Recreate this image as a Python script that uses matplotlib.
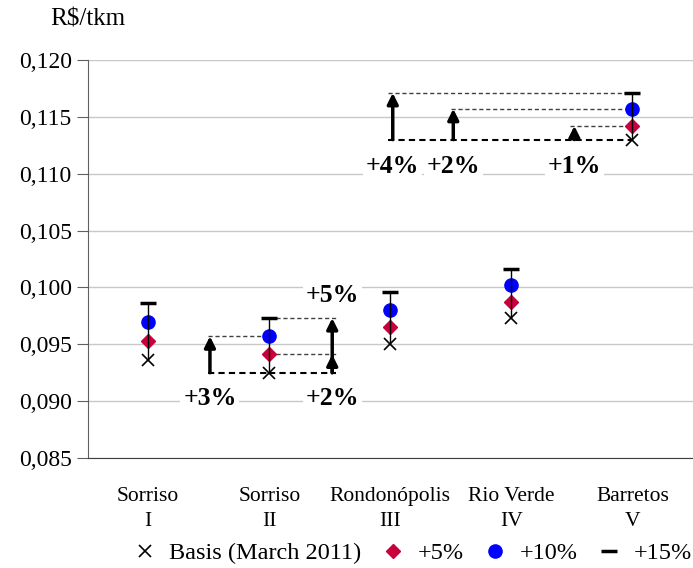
import numpy as np
import matplotlib
matplotlib.use("Agg")
import matplotlib.pyplot as plt
from matplotlib.ticker import FuncFormatter

# categories (route, region)
routes = ["Sorriso\nI", "Sorriso\nII", "Rondonópolis\nIII", "Rio Verde\nIV", "Barretos\nV"]

# freight cost R$/tkm per scenario
basis = [0.0936, 0.0925, 0.0950, 0.0973, 0.1130]
p5 = [0.0953, 0.0941, 0.0965, 0.0987, 0.1142]
p10 = [0.0970, 0.0957, 0.0980, 0.1002, 0.1157]
p15 = [0.0986, 0.0973, 0.0996, 0.1016, 0.1171]

legend_labels = ["Basis (March 2011)", "+5%", "+10%", "+15%"]

plt.rcParams['font.family'] = ['Liberation Serif', 'DejaVu Serif']

fig = plt.figure(figsize=(6.93, 5.68), dpi=100)
ax = fig.add_axes([0.1265, 0.1937, 0.8735, 0.7007])

x = np.arange(len(routes))

# grid
ax.set_ylim(0.085, 0.120)
ax.set_xlim(-0.5, len(routes) - 0.5)
ax.set_yticks(np.arange(0.085, 0.1201, 0.005))
ax.yaxis.grid(True, color='#c8c8c8', lw=1)
ax.set_axisbelow(True)
ax.yaxis.set_major_formatter(FuncFormatter(lambda v, p: ("%.3f" % v).replace('.', ',')))
ax.tick_params(axis='y', labelsize=17, length=8, color='#606060', direction='out')
ax.tick_params(axis='x', length=0, labelsize=15.5, pad=21)
ax.set_xticks(x)
ax.set_xticklabels(routes, linespacing=1.45)
for s in ['top', 'right']:
    ax.spines[s].set_visible(False)
ax.spines['left'].set_color('#606060')
ax.spines['bottom'].set_color('#404040')

# range lines basis -> +15%
ax.vlines(x, basis, p15, color='black', lw=1, zorder=5)

h0, = ax.plot(x, basis, 'x', color='black', ms=9, mew=1.2, ls='none', zorder=4)
h1, = ax.plot(x, p5, 'D', color='#c8003c', ms=7.5, ls='none', zorder=4)
h2, = ax.plot(x, p10, 'o', color='#0000ff', ms=9.5, ls='none', zorder=4)
h3, = ax.plot(x, p15, '_', color='black', ms=12, mew=2.5, ls='none', zorder=4)

dash = dict(color='#404040', lw=1, ls=(0, (3, 2)), zorder=3)
dash_b = dict(color='black', lw=1.5, ls=(0, (3, 2)), zorder=3)
arrow = dict(arrowstyle='-|>', lw=2.5, color='black', mutation_scale=16,
             shrinkA=0, shrinkB=0)
lab = dict(fontsize=18.5, fontweight='bold', ha='center', va='center',
           bbox=dict(facecolor='white', edgecolor='none', pad=2), zorder=6)

# Sorriso II: left side +3%
ax.hlines(basis[1], 0.49, 1, **dash_b)
ax.hlines(p10[1], 0.49, 1, **dash)
ax.annotate('', xy=(0.51, p10[1]), xytext=(0.51, basis[1]), arrowprops=arrow, zorder=6)
ax.text(0.51, 0.0902, '+3%', **lab)

# Sorriso II: right side +2%, +5%
ax.hlines(basis[1], 1, 1.55, **dash_b)
ax.hlines([p5[1], p15[1]], 1, 1.55, **dash)
ax.annotate('', xy=(1.52, p15[1]), xytext=(1.52, basis[1]), arrowprops=arrow, zorder=6)
ax.annotate('', xy=(1.52, p5[1]), xytext=(1.52, basis[1]), arrowprops=arrow, zorder=6)
ax.text(1.52, 0.0902, '+2%', **lab)
ax.text(1.52, 0.0993, '+5%', **lab)

# Barretos: +4%, +2%, +1%
ax.hlines(basis[4], 1.98, 4, **dash_b)
ax.hlines(p15[4], 1.98, 4, **dash)
ax.hlines(p10[4], 2.5, 4, **dash)
ax.hlines(p5[4], 3.48, 4, **dash)
ax.annotate('', xy=(2.02, p15[4]), xytext=(2.02, basis[4]), arrowprops=arrow, zorder=6)
ax.annotate('', xy=(2.52, p10[4]), xytext=(2.52, basis[4]), arrowprops=arrow, zorder=6)
ax.annotate('', xy=(3.52, p5[4]), xytext=(3.52, basis[4]), arrowprops=arrow, zorder=6)
ax.text(2.02, 0.1106, '+4%', **lab)
ax.text(2.52, 0.1106, '+2%', **lab)
ax.text(3.52, 0.1106, '+1%', **lab)

fig.text(0.072, 0.965, 'R$/tkm', fontsize=18, ha='left', va='center')

fig.legend([h0, h1, h2, h3], legend_labels, loc='center', ncol=4,
           bbox_to_anchor=(0.595, 0.026), frameon=False, fontsize=17.5,
           handlelength=1.0, handletextpad=0.5, columnspacing=0.8)

fig.savefig('out.png', dpi=100)
